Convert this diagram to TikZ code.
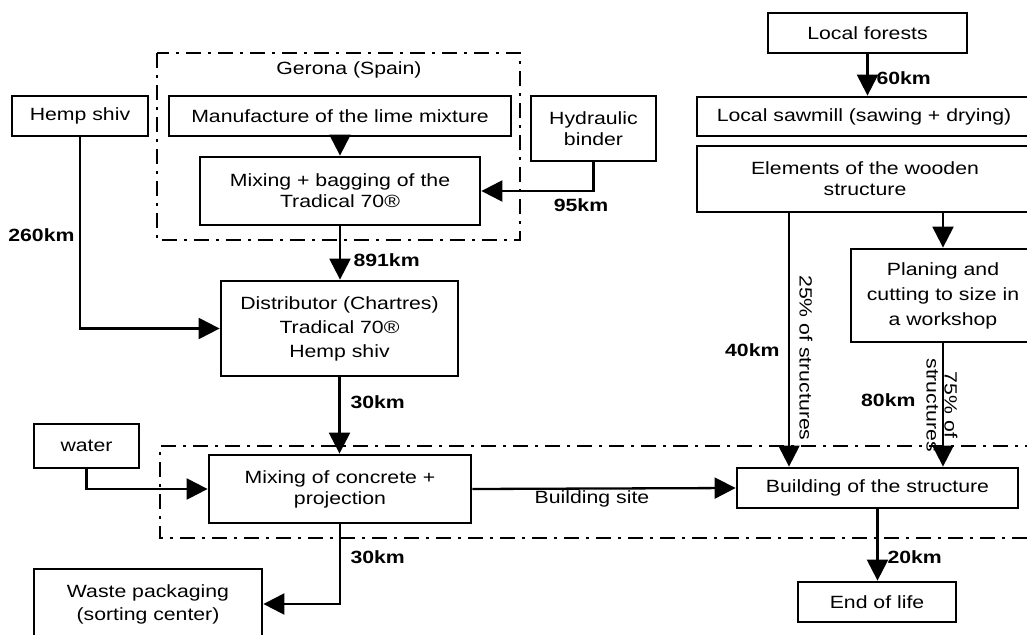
\documentclass[tikz,border=0pt]{standalone}
\usepackage{fontspec}
\setmainfont{Liberation Sans}[FakeStretch=1.2]
\usetikzlibrary{arrows.meta}
\tikzset{
	box/.style={draw, line width=2.8pt, inner sep=0pt, align=center},
	arr/.style={line width=2.3pt, -{Triangle[length=21pt,width=21pt]}},
	km/.style={font=\fontsize{17.7}{21}\selectfont\bfseries},
	zone/.style={line width=2.2pt, dash pattern=on 15pt off 7pt on 3pt off 7pt}
}
\begin{document}
\begin{tikzpicture}[x=1pt,y=-1pt,font=\fontsize{17.7}{21}\selectfont]
\useasboundingbox (0,0) rectangle (1027,634);
\draw[zone] (157,53) rectangle (520,240);
\draw[zone] (1040,446) -- (160,446) -- (160,538) -- (1040,538);
\node (gerona) at (349,70) {Gerona (Spain)};
\node[box, minimum width=136, minimum height=40] (hemp) at (80,116) {Hemp shiv};
\node[box, minimum width=342, minimum height=40] (manuf) at (340,116) {Manufacture of the lime mixture};
\node[box, minimum width=125, minimum height=65] (binder) at (593.5,128.5) {Hydraulic\\binder};
\node[box, minimum width=280, minimum height=68] (bagging) at (340,191) {Mixing + bagging of the\\Tradical 70®};
\node[box, minimum width=237, minimum height=95, font=\fontsize{17.7}{24}\selectfont] (distrib) at (339.5,328.5) {Distributor (Chartres)\\Tradical 70®\\Hemp shiv};
\node[box, minimum width=105, minimum height=44] (water) at (86.5,446) {water};
\node[box, minimum width=262, minimum height=68] (concrete) at (340,489) {Mixing of concrete +\\projection};
\node[box, minimum width=228, minimum height=70, font=\fontsize{17.7}{23}\selectfont] (waste) at (148,604) {Waste packaging\\(sorting center)};
\node[box, minimum width=199, minimum height=40] (forests) at (867.5,33) {Local forests};
\node[box, minimum width=334, minimum height=39] (sawmill) at (864,116.5) {Local sawmill (sawing + drying)};
\node[box, minimum width=336, minimum height=66] (elements) at (865,179) {Elements of the wooden\\structure};
\node[box, minimum width=184, minimum height=93, font=\fontsize{17.7}{25}\selectfont] (planing) at (943,295.5) {Planing and\\cutting to size in\\a workshop};
\node[box, minimum width=281, minimum height=40] (building) at (877.5,488) {Building of the structure};
\node[box, minimum width=158, minimum height=40] (endlife) at (877,602) {End of life};
\draw[arr] (manuf) -- (bagging);
\draw[arr] (binder.south) |- (bagging.east);
\draw[arr] (bagging.south) -- (bagging.south |- distrib.north);
\draw[arr] (hemp.south) |- (distrib.west);
\draw[arr] (distrib.south) -- (distrib.south |- concrete.north);
\draw[arr] (water.south) |- (concrete.west);
\draw[arr] (concrete.south) |- (waste.east);
\draw[arr] (concrete.east) -- (building.west);
\draw[arr] (forests.south) -- (forests.south |- sawmill.north);
\draw[arr] ([xshift=-76pt]elements.south) -- ([xshift=-76pt]elements.south |- building.north);
\draw[arr] (planing.north |- elements.south) -- (planing.north);
\draw[arr] (planing.south) -- (planing.south |- building.north);
\draw[arr] (building.south) -- (building.south |- endlife.north);
\path
	(873,78) node[km, anchor=west] (km60) {60km}
	(581,205) node[km] (km95) {95km}
	(350,260) node[km, anchor=west] (km891) {891km}
	(78,235) node[km, anchor=east] (km260) {260km}
	(347,402) node[km, anchor=west] (km30a) {30km}
	(347,557) node[km, anchor=west] (km30b) {30km}
	(783,350) node[km, anchor=east] (km40) {40km}
	(919,400) node[km, anchor=east] (km80) {80km}
	(884,557) node[km, anchor=west] (km20) {20km}
	(592,499) node (site) {Building site}
	(806,358) node[rotate=-90] (pc25) {25\% of structures}
	(942,405) node[rotate=-90, align=center, font=\fontsize{17.7}{18}\selectfont] (pc75) {75\% of\\structures};
\end{tikzpicture}
\end{document}
